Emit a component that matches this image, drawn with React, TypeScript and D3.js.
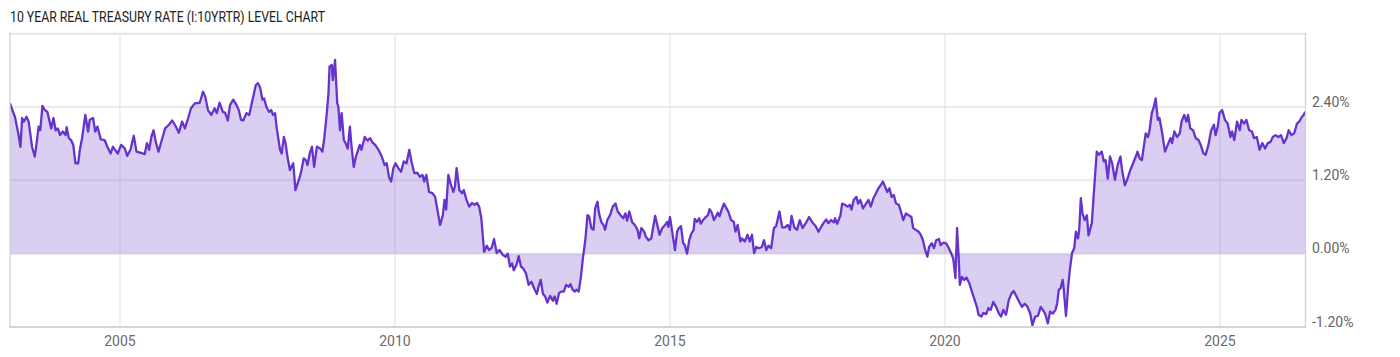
import React from "react";
import * as d3 from "d3";

const TITLE = "10 YEAR REAL TREASURY RATE (I:10YRTR) LEVEL CHART";

// fractional years (time) and real rate in percent
const years: number[] = [
  2003.00, 2003.09, 2003.15, 2003.19, 2003.22, 2003.25, 2003.30, 2003.34, 2003.40, 2003.45,
  2003.48, 2003.52, 2003.55, 2003.59, 2003.63, 2003.68, 2003.75, 2003.79, 2003.83, 2003.87,
  2003.91, 2003.96, 2004.01, 2004.03, 2004.07, 2004.11, 2004.15, 2004.19, 2004.24, 2004.27,
  2004.31, 2004.37, 2004.42, 2004.45, 2004.51, 2004.55, 2004.59, 2004.65, 2004.72, 2004.77,
  2004.83, 2004.87, 2004.91, 2004.96, 2005.02, 2005.09, 2005.13, 2005.19, 2005.25, 2005.30,
  2005.38, 2005.45, 2005.49, 2005.53, 2005.57, 2005.61, 2005.65, 2005.70, 2005.76, 2005.82,
  2005.89, 2005.95, 2006.01, 2006.07, 2006.13, 2006.18, 2006.24, 2006.29, 2006.36, 2006.45,
  2006.51, 2006.55, 2006.60, 2006.66, 2006.72, 2006.76, 2006.81, 2006.87, 2006.91, 2006.96,
  2007.00, 2007.06, 2007.12, 2007.16, 2007.20, 2007.24, 2007.30, 2007.35, 2007.41, 2007.47,
  2007.51, 2007.55, 2007.59, 2007.62, 2007.66, 2007.71, 2007.75, 2007.78, 2007.82, 2007.85,
  2007.91, 2007.94, 2007.98, 2008.01, 2008.05, 2008.09, 2008.15, 2008.19, 2008.23, 2008.27,
  2008.30, 2008.34, 2008.38, 2008.41, 2008.45, 2008.49, 2008.53, 2008.58, 2008.64, 2008.68,
  2008.71, 2008.76, 2008.79, 2008.81, 2008.85, 2008.87, 2008.91, 2008.95, 2008.97, 2009.00,
  2009.03, 2009.07, 2009.10, 2009.14, 2009.18, 2009.21, 2009.25, 2009.29, 2009.32, 2009.36,
  2009.39, 2009.45, 2009.50, 2009.55, 2009.59, 2009.64, 2009.70, 2009.76, 2009.81, 2009.85,
  2009.89, 2009.93, 2009.97, 2010.01, 2010.06, 2010.11, 2010.16, 2010.21, 2010.26, 2010.30,
  2010.35, 2010.41, 2010.45, 2010.50, 2010.53, 2010.57, 2010.62, 2010.68, 2010.73, 2010.82,
  2010.87, 2010.90, 2010.93, 2010.97, 2011.01, 2011.06, 2011.09, 2011.12, 2011.17, 2011.22,
  2011.25, 2011.30, 2011.35, 2011.40, 2011.45, 2011.49, 2011.53, 2011.57, 2011.62, 2011.67,
  2011.71, 2011.76, 2011.80, 2011.85, 2011.90, 2011.96, 2012.01, 2012.05, 2012.09, 2012.13,
  2012.16, 2012.21, 2012.25, 2012.29, 2012.33, 2012.38, 2012.43, 2012.48, 2012.53, 2012.58,
  2012.61, 2012.65, 2012.69, 2012.73, 2012.77, 2012.82, 2012.87, 2012.90, 2012.94, 2012.98,
  2013.02, 2013.07, 2013.11, 2013.16, 2013.19, 2013.23, 2013.27, 2013.30, 2013.34, 2013.38,
  2013.42, 2013.46, 2013.50, 2013.53, 2013.57, 2013.61, 2013.64, 2013.68, 2013.71, 2013.75,
  2013.79, 2013.82, 2013.86, 2013.91, 2013.96, 2014.01, 2014.05, 2014.10, 2014.15, 2014.19,
  2014.22, 2014.26, 2014.31, 2014.36, 2014.41, 2014.44, 2014.48, 2014.53, 2014.56, 2014.61,
  2014.66, 2014.73, 2014.77, 2014.81, 2014.86, 2014.91, 2014.95, 2014.97, 2015.00, 2015.04,
  2015.09, 2015.13, 2015.16, 2015.20, 2015.24, 2015.27, 2015.31, 2015.35, 2015.39, 2015.43,
  2015.45, 2015.49, 2015.53, 2015.56, 2015.61, 2015.65, 2015.69, 2015.72, 2015.76, 2015.80,
  2015.83, 2015.87, 2015.90, 2015.94, 2015.98, 2016.01, 2016.06, 2016.11, 2016.16, 2016.19,
  2016.23, 2016.28, 2016.31, 2016.36, 2016.41, 2016.45, 2016.49, 2016.53, 2016.57, 2016.62,
  2016.67, 2016.71, 2016.75, 2016.79, 2016.84, 2016.89, 2016.93, 2016.99, 2017.04, 2017.09,
  2017.14, 2017.18, 2017.21, 2017.26, 2017.31, 2017.36, 2017.41, 2017.47, 2017.53, 2017.59,
  2017.65, 2017.70, 2017.75, 2017.79, 2017.84, 2017.88, 2017.93, 2017.98, 2018.00, 2018.04,
  2018.10, 2018.13, 2018.18, 2018.23, 2018.27, 2018.30, 2018.34, 2018.39, 2018.42, 2018.46,
  2018.51, 2018.56, 2018.61, 2018.65, 2018.70, 2018.73, 2018.79, 2018.83, 2018.87, 2018.91,
  2018.95, 2018.99, 2019.03, 2019.07, 2019.11, 2019.16, 2019.19, 2019.24, 2019.29, 2019.34,
  2019.39, 2019.42, 2019.47, 2019.52, 2019.56, 2019.60, 2019.64, 2019.68, 2019.71, 2019.76,
  2019.80, 2019.84, 2019.89, 2019.92, 2019.97, 2020.02, 2020.07, 2020.11, 2020.15, 2020.19,
  2020.22, 2020.25, 2020.27, 2020.31, 2020.35, 2020.39, 2020.44, 2020.49, 2020.54, 2020.58,
  2020.61, 2020.66, 2020.70, 2020.75, 2020.79, 2020.83, 2020.88, 2020.93, 2020.98, 2021.02,
  2021.06, 2021.11, 2021.16, 2021.21, 2021.25, 2021.30, 2021.35, 2021.40, 2021.45, 2021.50,
  2021.55, 2021.59, 2021.64, 2021.69, 2021.74, 2021.78, 2021.82, 2021.87, 2021.91, 2021.96,
  2022.01, 2022.04, 2022.07, 2022.10, 2022.14, 2022.16, 2022.20, 2022.24, 2022.27, 2022.31,
  2022.35, 2022.38, 2022.42, 2022.44, 2022.47, 2022.50, 2022.54, 2022.58, 2022.61, 2022.67,
  2022.71, 2022.76, 2022.80, 2022.85, 2022.89, 2022.92, 2022.96, 2023.00, 2023.04, 2023.09,
  2023.14, 2023.19, 2023.22, 2023.27, 2023.32, 2023.37, 2023.42, 2023.47, 2023.50, 2023.54,
  2023.58, 2023.61, 2023.65, 2023.69, 2023.72, 2023.76, 2023.80, 2023.83, 2023.87, 2023.90,
  2023.95, 2024.00, 2024.05, 2024.10, 2024.13, 2024.17, 2024.22, 2024.27, 2024.30, 2024.35,
  2024.39, 2024.42, 2024.46, 2024.51, 2024.56, 2024.61, 2024.65, 2024.70, 2024.74, 2024.79,
  2024.84, 2024.89, 2024.92, 2024.96, 2024.99, 2025.04, 2025.09, 2025.14, 2025.19, 2025.22,
  2025.26, 2025.31, 2025.36, 2025.39, 2025.44, 2025.48, 2025.53, 2025.58, 2025.62, 2025.67,
  2025.72, 2025.77, 2025.82, 2025.87, 2025.92, 2025.96, 2026.01, 2026.06, 2026.11, 2026.16,
  2026.21, 2026.25, 2026.30, 2026.35, 2026.40, 2026.44, 2026.49, 2026.52, 2026.55,
];

const rates: number[] = [
  2.46, 2.24, 1.97, 1.75, 2.22, 2.16, 2.24, 2.16, 1.75, 1.59,
  1.78, 2.08, 2.02, 2.42, 2.35, 2.32, 2.05, 2.22, 2.02, 2.05,
  1.94, 2.00, 1.94, 2.07, 1.89, 1.86, 1.78, 1.48, 1.48, 1.70,
  1.89, 2.27, 2.00, 2.19, 2.22, 2.00, 2.08, 1.87, 1.86, 1.75,
  1.64, 1.75, 1.70, 1.64, 1.78, 1.72, 1.60, 1.70, 1.93, 1.67,
  1.65, 1.63, 1.81, 1.70, 1.91, 2.02, 1.83, 1.67, 1.86, 2.05,
  2.11, 2.18, 2.09, 1.98, 2.16, 2.05, 2.22, 2.38, 2.46, 2.47,
  2.65, 2.57, 2.35, 2.27, 2.38, 2.30, 2.47, 2.32, 2.31, 2.18,
  2.43, 2.52, 2.43, 2.35, 2.19, 2.18, 2.30, 2.27, 2.52, 2.76,
  2.79, 2.71, 2.52, 2.54, 2.41, 2.32, 2.35, 2.27, 2.30, 2.05,
  1.70, 1.64, 1.91, 1.81, 1.56, 1.37, 1.48, 1.04, 1.15, 1.26,
  1.37, 1.56, 1.53, 1.45, 1.64, 1.75, 1.42, 1.75, 1.72, 1.67,
  1.86, 2.30, 2.62, 3.06, 3.09, 2.84, 3.17, 2.46, 2.41, 2.02,
  2.30, 1.86, 1.81, 1.72, 2.08, 1.75, 1.42, 1.59, 1.67, 1.78,
  1.70, 1.91, 1.85, 1.89, 1.82, 1.78, 1.70, 1.59, 1.45, 1.48,
  1.26, 1.18, 1.40, 1.48, 1.40, 1.34, 1.51, 1.48, 1.70, 1.51,
  1.32, 1.32, 1.26, 1.29, 1.18, 1.29, 1.01, 0.99, 0.93, 0.47,
  0.63, 0.88, 0.72, 1.29, 1.15, 1.01, 1.10, 1.40, 1.04, 0.99,
  1.04, 0.88, 0.77, 0.83, 0.80, 0.83, 0.77, 0.58, 0.03, 0.13,
  0.06, 0.10, 0.24, 0.01, 0.06, -0.02, -0.05, 0.00, -0.21, -0.16,
  -0.27, -0.18, -0.04, -0.21, -0.24, -0.32, -0.51, -0.46, -0.57, -0.66,
  -0.54, -0.43, -0.66, -0.70, -0.80, -0.69, -0.77, -0.70, -0.82, -0.65,
  -0.62, -0.62, -0.51, -0.54, -0.50, -0.59, -0.62, -0.59, -0.62, -0.38,
  -0.05, 0.22, 0.63, 0.61, 0.42, 0.39, 0.74, 0.85, 0.66, 0.52,
  0.47, 0.39, 0.55, 0.63, 0.77, 0.82, 0.69, 0.63, 0.58, 0.66,
  0.54, 0.69, 0.52, 0.47, 0.39, 0.25, 0.42, 0.36, 0.28, 0.22,
  0.25, 0.62, 0.47, 0.31, 0.42, 0.47, 0.52, 0.44, 0.60, 0.36,
  0.06, 0.36, 0.42, 0.45, 0.17, 0.14, 0.00, 0.22, 0.33, 0.39,
  0.57, 0.52, 0.58, 0.49, 0.56, 0.60, 0.63, 0.73, 0.67, 0.55,
  0.60, 0.67, 0.61, 0.72, 0.82, 0.77, 0.69, 0.55, 0.52, 0.36,
  0.47, 0.20, 0.25, 0.20, 0.31, 0.20, 0.31, 0.01, 0.11, 0.09,
  0.11, 0.22, 0.06, 0.13, 0.09, 0.42, 0.45, 0.69, 0.43, 0.43,
  0.47, 0.39, 0.62, 0.43, 0.39, 0.55, 0.42, 0.50, 0.60, 0.51,
  0.45, 0.36, 0.44, 0.50, 0.56, 0.50, 0.55, 0.51, 0.58, 0.49,
  0.63, 0.82, 0.80, 0.77, 0.80, 0.72, 0.88, 0.93, 0.82, 0.88,
  0.74, 0.81, 0.88, 0.77, 0.91, 0.96, 1.07, 1.12, 1.18, 1.10,
  1.01, 1.07, 0.93, 0.96, 0.82, 0.80, 0.72, 0.55, 0.66, 0.63,
  0.60, 0.42, 0.39, 0.36, 0.31, 0.22, 0.06, -0.05, 0.11, 0.17,
  0.09, 0.22, 0.24, 0.14, 0.18, 0.17, 0.09, 0.01, -0.08, -0.40,
  0.42, -0.08, -0.51, -0.38, -0.43, -0.39, -0.48, -0.62, -0.76, -0.87,
  -1.00, -1.03, -0.97, -0.99, -0.89, -0.92, -0.79, -0.87, -0.98, -1.03,
  -0.92, -1.00, -0.76, -0.65, -0.61, -0.70, -0.79, -0.87, -0.82, -0.87,
  -0.98, -1.17, -1.03, -1.02, -0.87, -0.92, -0.98, -1.14, -0.95, -0.98,
  -0.92, -0.81, -0.59, -0.57, -0.43, -0.59, -1.02, -0.54, -0.27, 0.01,
  0.09, 0.36, 0.25, 0.39, 0.91, 0.66, 0.55, 0.63, 0.30, 0.50,
  1.04, 1.67, 1.62, 1.67, 1.51, 1.53, 1.23, 1.59, 1.48, 1.21,
  1.45, 1.59, 1.37, 1.12, 1.23, 1.37, 1.48, 1.59, 1.67, 1.56,
  1.53, 1.72, 1.97, 1.91, 2.02, 2.30, 2.41, 2.54, 2.19, 2.22,
  1.97, 1.67, 1.78, 1.89, 1.81, 2.00, 1.91, 1.97, 2.16, 2.27,
  2.16, 2.27, 2.05, 2.02, 1.89, 1.86, 1.78, 1.64, 1.62, 1.78,
  2.02, 2.11, 1.94, 2.08, 2.30, 2.35, 2.19, 2.13, 1.91, 2.00,
  1.86, 2.16, 2.02, 2.19, 2.13, 2.19, 2.02, 2.00, 1.89, 1.91,
  1.70, 1.81, 1.72, 1.81, 1.83, 1.91, 1.94, 1.91, 1.94, 1.81,
  1.89, 2.02, 1.94, 1.97, 2.13, 2.16, 2.24, 2.27, 2.32,
];

const xTicks: number[] = [2005, 2010, 2015, 2020, 2025];
const yTicks: number[] = [-1.2, 0, 1.2, 2.4];
const X_DOMAIN: [number, number] = [2003.0, 2026.555];
const Y_DOMAIN: [number, number] = [-1.2, 3.6];

const LEFT = 10;
const RIGHT = 1305.5;
const TOP = 33.7;
const BOTTOM = 327;

const LINE = "#6633cc";

export default function App() {
  const x = d3.scaleLinear().domain(X_DOMAIN).range([LEFT, RIGHT]);
  const y = d3.scaleLinear().domain(Y_DOMAIN).range([BOTTOM, TOP]);
  const data = years.map((t, i) => ({ t, v: rates[i] }));

  const line = d3
    .line<{ t: number; v: number }>()
    .x((d) => x(d.t))
    .y((d) => y(d.v));
  const area = d3
    .area<{ t: number; v: number }>()
    .x((d) => x(d.t))
    .y0(y(0))
    .y1((d) => y(d.v));

  const fmt = (v: number) => v.toFixed(2) + "%";

  return (
    <svg
      width={1400}
      height={357}
      style={{ position: "absolute", left: 0, top: 0, background: "#fff" }}
      fontFamily="Roboto, 'Noto Sans', sans-serif"
    >
      <defs>
        <clipPath id="plot">
          <rect x={LEFT} y={TOP} width={RIGHT - LEFT} height={BOTTOM - TOP} />
        </clipPath>
      </defs>

      <text
        x={10}
        y={22}
        fontSize={15}
        fill="#222"
        textLength={315}
        lengthAdjust="spacingAndGlyphs"
      >
        {TITLE}
      </text>

      {/* horizontal gridlines */}
      {yTicks
        .filter((v) => v > Y_DOMAIN[0])
        .map((v) => (
          <line
            key={"hy" + v}
            x1={LEFT}
            x2={RIGHT}
            y1={y(v)}
            y2={y(v)}
            stroke="#ebebeb"
            strokeWidth={2}
          />
        ))}
      {/* vertical gridlines */}
      {xTicks.map((t) => (
        <line
          key={"vx" + t}
          x1={x(t)}
          x2={x(t)}
          y1={TOP}
          y2={BOTTOM}
          stroke="#e0e0e0"
          strokeWidth={1}
        />
      ))}

      <g clipPath="url(#plot)">
        <path d={area(data) || ""} fill={LINE} fillOpacity={0.24} />
        <path
          d={line(data) || ""}
          fill="none"
          stroke={LINE}
          strokeWidth={2.3}
          strokeLinejoin="round"
        />
      </g>

      {/* frame */}
      <line x1={LEFT} x2={RIGHT} y1={TOP} y2={TOP} stroke="#e6e6e6" strokeWidth={2} />
      <line x1={LEFT} x2={LEFT} y1={TOP - 1} y2={BOTTOM + 1} stroke="#cfcfcf" strokeWidth={1.2} />
      <line x1={RIGHT} x2={RIGHT} y1={TOP - 1} y2={BOTTOM + 1} stroke="#cfcfcf" strokeWidth={1.2} />
      <line x1={LEFT} x2={RIGHT} y1={BOTTOM} y2={BOTTOM} stroke="#d4d4d4" strokeWidth={2} />

      {/* y labels */}
      {yTicks.map((v) => (
        <text key={"yl" + v} x={1312} y={y(v) - 0.5} fontSize={14} fill="#666">
          {fmt(v)}
        </text>
      ))}
      {/* x labels */}
      {xTicks.map((t) => (
        <text
          key={"xl" + t}
          x={x(t)}
          y={345.5}
          fontSize={14}
          fill="#6b6b6b"
          textAnchor="middle"
        >
          {t}
        </text>
      ))}
    </svg>
  );
}
